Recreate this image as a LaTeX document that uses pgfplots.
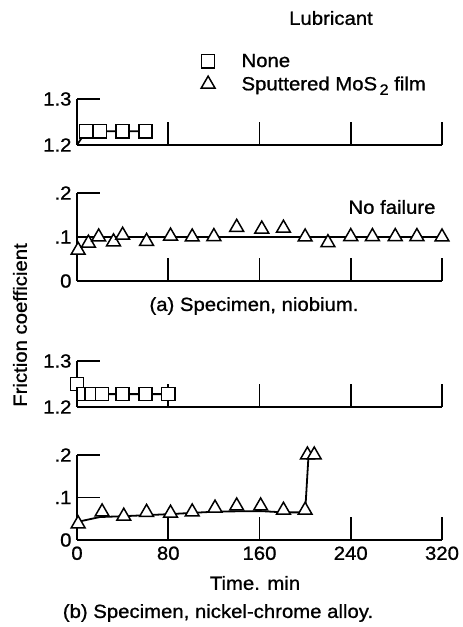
\documentclass[border=0pt]{standalone}
\usepackage{pgfplots}
\pgfplotsset{compat=1.18}
\usepackage{fontspec}
\setmainfont{Liberation Sans}[FakeStretch=1.07, FakeBold=1.0]
\newcommand\bigfont{\fontsize{19}{22}\selectfont}
\begin{document}
\begin{tikzpicture}[x=1pt,y=1pt]
\path (0,0) rectangle (460,627);
\pgfplotsset{
  panel/.style={
    scale only axis, width=365pt, anchor=south west,
    xmin=0, xmax=320, clip=false,
    axis x line*=bottom, axis y line*=left,
    axis line style={line width=1.6pt,-},
    tick align=inside, major tick length=23pt,
    tick style={line width=1.6pt,black},
    xtick={0,80,160,240,320},
    tick label style={font=\bigfont},
    /pgf/number format/assume math mode=true,
    yticklabel style={xshift=-2pt},
    xticklabel style={yshift=-3pt},
  },
  sq/.style={only marks, mark=square*, mark size=6.6pt, mark options={fill=white,draw=black,line width=1.5pt}},
  tri/.style={only marks, mark=triangle*, mark size=8pt, mark options={fill=white,draw=black,line width=1.5pt}},
  dl/.style={black, line width=1.8pt, no marks},
}
% Panel 1
\begin{axis}[panel, at={(77pt,482pt)}, height=46pt, ymin=1.2, ymax=1.3,
  ytick={1.2,1.3}, yticklabels={1.2,1.3}, xticklabels={},
  legend style={at={(axis description cs:0.3315,2.06)}, anchor=north west, draw=none, fill=none,
    font=\bigfont, nodes={inner sep=1.5pt}, row sep=5pt,
    /tikz/every odd column/.append style={column sep=25pt}},
  legend cell align=left]
\addplot[dl, forget plot] coordinates {(0,1.2) (8,1.23) (20,1.23) (40,1.23) (60,1.23)};
\addplot[sq] coordinates {(8,1.23) (20,1.23) (40,1.23) (60,1.23)};
\addlegendentry{None}
\addlegendimage{tri}
\addlegendentry{Sputtered MoS\raisebox{-0.45ex}{\fontsize{15}{15}\selectfont\,2} film}
\end{axis}
% Panel 2
\begin{axis}[panel, at={(77pt,346pt)}, height=88pt, ymin=0, ymax=0.2,
  ytick={0,0.1,0.2}, yticklabels={0,.1,.2}, xticklabels={}]
\addplot[dl] coordinates {(0,0.1) (320,0.1)};
\addplot[tri] coordinates {(1,0.070) (10,0.086) (19,0.100) (32,0.089) (40,0.104) (61,0.090)
 (82,0.102) (101,0.100) (120,0.101) (140,0.122) (162,0.118) (181,0.120) (200,0.100)
 (220,0.087) (240,0.101) (259,0.101) (279,0.101) (298,0.101) (320,0.100)};
\end{axis}
% Panel 3
\begin{axis}[panel, at={(77pt,220pt)}, height=46pt, ymin=1.2, ymax=1.3,
  ytick={1.2,1.3}, yticklabels={1.2,1.3}, xticklabels={}]
\addplot[dl] coordinates {(0,1.25) (6,1.228) (13,1.228) (22,1.228) (40,1.228) (60,1.228) (80,1.228)};
\addplot[sq] coordinates {(0,1.25) (6,1.228) (13,1.228) (22,1.228) (40,1.228) (60,1.228) (80,1.228)};
\end{axis}
% Panel 4
\begin{axis}[panel, at={(77pt,87pt)}, height=85pt, ymin=0, ymax=0.2,
  ytick={0,0.1,0.2}, yticklabels={0,.1,.2}, xticklabels={0,80,160,240,320}]
\addplot[dl] coordinates {(1,0.043) (20,0.054) (41,0.056) (82,0.061) (123,0.067) (161,0.068)
 (181,0.065) (200,0.065) (203,0.2)};
\addplot[tri] coordinates {(1,0.038) (22,0.066) (41,0.056) (61,0.065) (82,0.063) (101,0.066)
 (121,0.075) (140,0.080) (161,0.080) (181,0.070) (200,0.070) (202,0.2) (208,0.2)};
\end{axis}
\node[font=\bigfont] at (331,609) {Lubricant};
\node[font=\bigfont] at (392,420) {No failure};
\node[font=\bigfont] at (254,321) {(a) Specimen, niobium.};
\node[font=\bigfont,rotate=90] at (20,302) {Friction coefficient};
\node[font=\bigfont] at (255,44) {Time. min};
\node[font=\bigfont] at (218,14) {(b) Specimen, nickel-chrome alloy.};
\end{tikzpicture}
\end{document}
